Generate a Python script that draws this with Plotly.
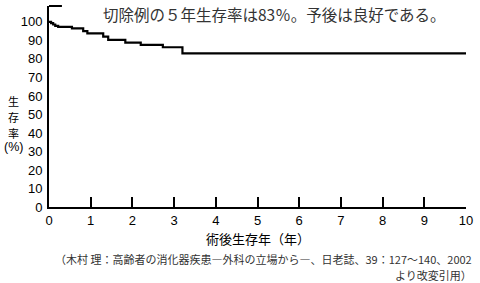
import plotly.graph_objects as go

# Kaplan-Meier style survival steps (years, %)
years = [0, 0.05, 0.10, 0.15, 0.22, 0.55, 0.82, 0.92, 1.30, 1.42, 1.83, 2.20, 2.73, 3.20, 10]
survival = [100, 99.3, 98.6, 97.9, 97.3, 96.5, 95.0, 93.8, 92.0, 90.3, 88.8, 87.6, 86.3, 83.0, 83.0]

x_ticks = list(range(0, 11))
y_ticks = list(range(0, 101, 10))

title_text = "切除例の５年生存率は83％。予後は良好である。"
x_title = "術後生存年（年）"
y_title_chars = ["生", "存", "率", "(%)"]
cite_line1 = "（木村 理：高齢者の消化器疾患―外科の立場から―、日老誌、39：127～140、2002"
cite_line2 = "より改変引用）"

num_font = "Liberation Sans, Arial, sans-serif"
jp_font = "Noto Sans CJK JP"

fig = go.Figure()
fig.add_trace(go.Scatter(
    x=years, y=survival, mode="lines",
    line=dict(color="black", width=2.2, shape="hv"),
    hoverinfo="skip", showlegend=False, cliponaxis=False,
))

fig.update_layout(
    width=480, height=283,
    margin=dict(l=49, r=14, t=6, b=76),
    paper_bgcolor="white", plot_bgcolor="white",
    xaxis=dict(
        range=[0, 10], tickvals=x_ticks, ticktext=[str(v) for v in x_ticks],
        showgrid=False, zeroline=False, showline=True, linecolor="black", linewidth=2,
        ticks="inside", ticklen=10, tickwidth=1.8, tickcolor="black",
        tickfont=dict(family=num_font, size=13, color="black"),
    ),
    yaxis=dict(
        range=[0, 108.6], tickvals=y_ticks, ticktext=[str(v) for v in y_ticks],
        showgrid=False, zeroline=False, showline=True, linecolor="black", linewidth=2,
        ticks="", tickfont=dict(family=num_font, size=13, color="black"),
        ticklabelstandoff=2,
    ),
    shapes=[dict(type="line", xref="x", yref="paper", x0=0, x1=0.31, y0=1, y1=1,
                 line=dict(color="black", width=2))],
)

pw, ph = 480 - 49 - 14, 283 - 6 - 76
def px2paper(px, py):
    return (px - 49) / pw, (283 - 76 - py) / ph

ann = []
x0, y0 = px2paper(101, 14)
ann.append(dict(text=title_text, xref="paper", yref="paper", x=x0, y=y0,
                xanchor="left", yanchor="middle", showarrow=False,
                font=dict(family=jp_font, size=15.5, color="#333")))
ann.append(dict(text=x_title, xref="x", yref="paper", x=5.0, y=px2paper(0, 238)[1],
                xanchor="center", yanchor="middle", showarrow=False,
                font=dict(family=jp_font, size=13, color="black")))
ypix = [100.5, 116.5, 132.5, 147]
for ch, yp in zip(y_title_chars, ypix):
    ax, ay = px2paper(13, yp)
    is_latin = ch.startswith("(")
    ann.append(dict(text=ch, xref="paper", yref="paper", x=ax, y=ay,
                    xanchor="center", yanchor="middle", showarrow=False,
                    font=dict(family=num_font if is_latin else jp_font,
                              size=12.5 if is_latin else 11, color="black")))
cx, cy = px2paper(474, 258.6)
ann.append(dict(text=cite_line1, xref="paper", yref="paper", x=cx, y=cy,
                xanchor="right", yanchor="middle", showarrow=False,
                font=dict(family=jp_font, size=11, color="#333")))
cx, cy = px2paper(474, 274.7)
ann.append(dict(text=cite_line2, xref="paper", yref="paper", x=cx, y=cy,
                xanchor="right", yanchor="middle", showarrow=False,
                font=dict(family=jp_font, size=11, color="#333")))

fig.update_layout(annotations=ann)
fig.write_html("out.html")
